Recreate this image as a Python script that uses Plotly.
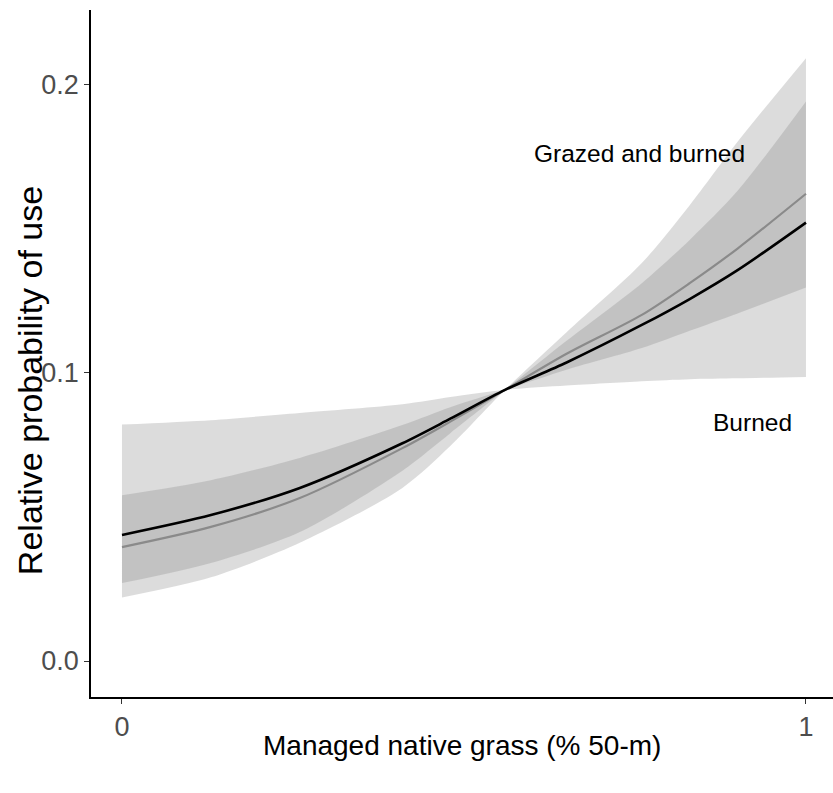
import plotly.graph_objects as go

# Read-off values (x = managed native grass proportion)
x = [0.0, 0.13, 0.26, 0.41, 0.48, 0.56, 0.65, 0.76, 0.83, 0.90, 1.0]

# Gray line and its (wider) ribbon
gray_fit = [0.0395, 0.0465, 0.0565, 0.0738, 0.083, 0.094, 0.1065, 0.120, 0.131, 0.143, 0.162]
gray_edge1 = [0.082, 0.0835, 0.086, 0.089, 0.0915, 0.094, 0.0955, 0.097, 0.0977, 0.098, 0.0985]
gray_edge2 = [0.022, 0.029, 0.041, 0.060, 0.0745, 0.094, 0.114, 0.138, 0.158, 0.180, 0.209]

# Black line and its (narrower) ribbon
black_fit = [0.0437, 0.0506, 0.060, 0.0755, 0.084, 0.094, 0.1035, 0.1165, 0.1255, 0.1355, 0.152]
black_edge1 = [0.0575, 0.0627, 0.0704, 0.0818, 0.088, 0.094, 0.101, 0.1085, 0.1145, 0.1205, 0.1295]
black_edge2 = [0.027, 0.034, 0.0447, 0.066, 0.079, 0.094, 0.111, 0.131, 0.146, 0.163, 0.194]

labels = ["Grazed and burned", "Burned"]
label_x = [0.757, 0.922]
label_y = [0.176, 0.0828]

y_ticks = [0.0, 0.1, 0.2]
y_ticktext = ["0.0", "0.1", "0.2"]
x_ticks = [0, 1]
x_ticktext = ["0", "1"]

x_title = "Managed native grass (% 50-m)"
y_title = "Relative probability of use"

ribbon_fill = "rgba(127,127,127,0.27)"
font_family = "Liberation Sans, Arial, sans-serif"

fig = go.Figure()

for e1, e2 in [(gray_edge1, gray_edge2), (black_edge1, black_edge2)]:
    fig.add_trace(go.Scatter(x=x, y=e1, mode="lines",
                             line=dict(width=0, shape="spline", smoothing=0.8),
                             hoverinfo="skip", showlegend=False))
    fig.add_trace(go.Scatter(x=x, y=e2, mode="lines",
                             line=dict(width=0, shape="spline", smoothing=0.8),
                             fill="tonexty", fillcolor=ribbon_fill,
                             hoverinfo="skip", showlegend=False))

fig.add_trace(go.Scatter(x=x, y=gray_fit, mode="lines",
                         line=dict(color="#8a8a8a", width=2.2, shape="spline", smoothing=0.8),
                         showlegend=False))
fig.add_trace(go.Scatter(x=x, y=black_fit, mode="lines",
                         line=dict(color="black", width=2.6, shape="spline", smoothing=0.8),
                         showlegend=False))

for t, lx, ly in zip(labels, label_x, label_y):
    fig.add_annotation(x=lx, y=ly, text=t, showarrow=False,
                       font=dict(size=24.5, color="black", family=font_family))

# axis titles as paper annotations for precise placement
fig.add_annotation(x=0.5, y=-0.07, xref="paper", yref="paper", text=x_title,
                   showarrow=False, xanchor="center", yanchor="middle",
                   font=dict(size=28, color="black", family=font_family))
fig.add_annotation(x=-0.082, y=0.46, xref="paper", yref="paper", text=y_title,
                   showarrow=False, xanchor="center", yanchor="middle", textangle=-90,
                   font=dict(size=34, color="black", family=font_family))

fig.update_layout(
    width=833, height=793,
    margin=dict(l=91, r=0, t=10, b=96, autoexpand=False),
    paper_bgcolor="white", plot_bgcolor="white",
    font=dict(family=font_family),
)
fig.update_xaxes(range=[-0.0453, 1.0395], tickvals=x_ticks, ticktext=x_ticktext,
                 automargin=False,
                 showgrid=False, zeroline=False, showline=True, linecolor="black", linewidth=1.5,
                 ticks="outside", ticklen=5, tickcolor="#333333", tickwidth=1,
                 tickfont=dict(size=27, color="#4d4d4d"))
fig.update_yaxes(range=[-0.01248, 0.2257], tickvals=y_ticks, ticktext=y_ticktext,
                 automargin=False,
                 showgrid=False, zeroline=False, showline=True, linecolor="black", linewidth=1.5,
                 ticks="outside", ticklen=5, tickcolor="#333333", tickwidth=1,
                 tickfont=dict(size=27, color="#4d4d4d"))

fig.write_html("out.html", config={"displayModeBar": False},
               post_script="document.body.style.margin='0px';")
